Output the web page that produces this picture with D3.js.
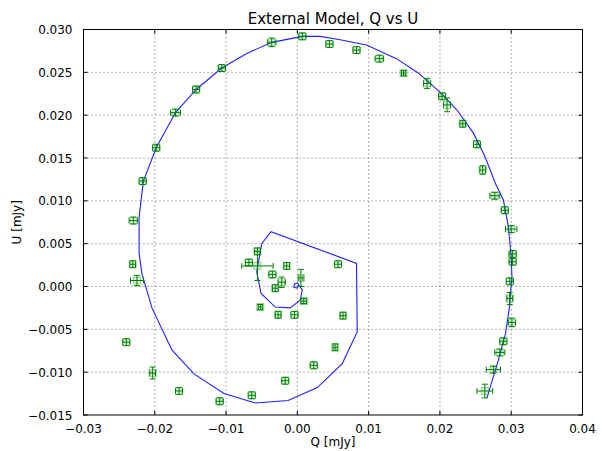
<!DOCTYPE html>
<html><head><meta charset="utf-8">
<script src="https://cdn.jsdelivr.net/npm/d3@7"></script>
<style>body{margin:0;background:#fff}svg{display:block;font-family:"DejaVu Sans",sans-serif}</style>
</head><body>
<script>
// Observed data points: Q, U and their errors
const obsQ = [-0.0036,0.0007,0.0045,0.0083,0.0115,0.0149,0.0182,0.0203,0.0210,0.0232,0.0252,0.0260,0.0277,0.0291,0.0300,0.0302,0.0302,0.0298,0.0298,0.0301,0.0289,0.0284,0.0275,0.0263,0.0057,0.0064,0.0053,0.0023,-0.0017,-0.0064,-0.0109,-0.0166,-0.0203,-0.0240,-0.0225,-0.0231,-0.0230,-0.0217,-0.0198,-0.0171,-0.0142,-0.0106,-0.0056,-0.0056,-0.0068,-0.0015,-0.0035,-0.0022,-0.0031,0.0005,0.0009,-0.0052,-0.0027,-0.0004];
const obsU = [0.0285,0.0292,0.0283,0.0276,0.0266,0.0249,0.0237,0.0222,0.0212,0.0190,0.0166,0.0136,0.0106,0.0089,0.0067,0.0038,0.0029,0.0006,-0.0014,-0.0042,-0.0064,-0.0077,-0.0097,-0.0122,0.0026,-0.0034,-0.0071,-0.0092,-0.0110,-0.0127,-0.0134,-0.0122,-0.0101,-0.0065,0.0007,0.0026,0.0077,0.0123,0.0162,0.0203,0.0230,0.0255,0.0041,0.0024,0.0028,0.0024,0.0014,0.0005,-0.0002,0.0010,-0.0017,-0.0024,-0.0033,-0.0033];
const errQ = [0.0006,0.0005,0.0005,0.0005,0.0006,0.0003,0.0005,0.0005,0.0005,0.0004,0.0005,0.0004,0.0007,0.0005,0.0008,0.0005,0.0005,0.0005,0.0004,0.0005,0.0005,0.0007,0.0010,0.0011,0.0005,0.0004,0.0003,0.0005,0.0005,0.0005,0.0005,0.0005,0.0004,0.0005,0.0009,0.0004,0.0006,0.0005,0.0005,0.0007,0.0005,0.0005,0.0004,0.0022,0.0005,0.0004,0.0005,0.0005,0.0004,0.0003,0.0004,0.0003,0.0004,0.0005];
const errU = [0.0005,0.0004,0.0004,0.0004,0.0004,0.0003,0.0006,0.0004,0.0008,0.0004,0.0004,0.0005,0.0004,0.0004,0.0004,0.0004,0.0004,0.0004,0.0007,0.0005,0.0004,0.0004,0.0004,0.0008,0.0004,0.0004,0.0004,0.0004,0.0004,0.0004,0.0004,0.0004,0.0007,0.0004,0.0006,0.0004,0.0004,0.0004,0.0004,0.0004,0.0004,0.0004,0.0004,0.0017,0.0004,0.0004,0.0004,0.0006,0.0004,0.0010,0.0003,0.0003,0.0004,0.0004];
// Model curve
const modelQ = [0.0266,0.0282,0.0292,0.0297,0.0301,0.0300,0.0296,0.0289,0.0278,0.0263,0.0247,0.0224,0.0200,0.0170,0.0139,0.0097,0.0060,0.0032,0.0007,-0.0036,-0.0071,-0.0106,-0.0142,-0.0171,-0.0198,-0.0216,-0.0222,-0.0222,-0.0218,-0.0204,-0.0176,-0.0145,-0.0103,-0.0059,-0.0013,0.0028,0.0063,0.0084,0.0083,-0.0037,-0.0050,-0.0057,-0.0051,-0.0031,-0.0010,0.0004,0.0007,0.0000,-0.0004,-0.0005,0.0000,0.0001];
const modelU = [-0.0130,-0.0086,-0.0055,-0.0027,0.0011,0.0035,0.0070,0.0101,0.0120,0.0152,0.0179,0.0206,0.0227,0.0249,0.0266,0.0282,0.0288,0.0292,0.0292,0.0285,0.0272,0.0255,0.0230,0.0203,0.0162,0.0123,0.0081,0.0039,0.0015,-0.0025,-0.0074,-0.0102,-0.0125,-0.0136,-0.0133,-0.0118,-0.0090,-0.0053,0.0027,0.0064,0.0050,0.0017,-0.0008,-0.0024,-0.0025,-0.0016,-0.0004,0.0004,0.0003,-0.0001,-0.0002,0.0001];
const xTicks = [-0.03,-0.02,-0.01,0.00,0.01,0.02,0.03,0.04];
const yTicks = [-0.015,-0.010,-0.005,0.000,0.005,0.010,0.015,0.020,0.025,0.030];

const W=602,H=451, L=83.5, R=582.5, T=29.5, B=415;
const svg=d3.select("body").append("svg").attr("width",W).attr("height",H);
const x=d3.scaleLinear().domain([-0.03,0.04]).range([L,R]);
const y=d3.scaleLinear().domain([-0.015,0.030]).range([B,T]);
const fmt=(v,d)=>{const s=Math.abs(v).toFixed(d);return (v<-1e-12?"\u2212":"")+s;};

// grid
const g=svg.append("g");
xTicks.slice(1,-1).forEach(v=>g.append("line").attr("x1",x(v)).attr("x2",x(v)).attr("y1",T).attr("y2",B).attr("stroke","#000").attr("stroke-width",0.6).attr("stroke-dasharray","1,3"));
yTicks.slice(1,-1).forEach(v=>g.append("line").attr("y1",y(v)).attr("y2",y(v)).attr("x1",L).attr("x2",R).attr("stroke","#000").attr("stroke-width",0.6).attr("stroke-dasharray","1,3"));

// model line
const line=d3.line().x(d=>x(d[0])).y(d=>y(d[1]));
svg.append("path").datum(d3.zip(modelQ,modelU)).attr("d",line).attr("fill","none").attr("stroke","#2020ff").attr("stroke-width",1.1);

// error bars & markers
const pts=obsQ.map((q,i)=>({q,u:obsU[i],eq:errQ[i],eu:errU[i]}));
const pg=svg.append("g");
pts.forEach(p=>{
  const cx=x(p.q), cy=y(p.u);
  pg.append("rect").attr("x",cx-3.5).attr("y",cy-3.5).attr("width",7).attr("height",7).attr("fill","rgba(0,160,0,0.12)").attr("stroke","rgba(0,150,0,0.4)").attr("stroke-width",1);
});
pts.forEach(p=>{
  const cx=x(p.q), cy=y(p.u);
  const x0=x(p.q-p.eq), x1=x(p.q+p.eq), y0=y(p.u-p.eu), y1=y(p.u+p.eu);
  const c="#008000";
  pg.append("line").attr("x1",x0).attr("x2",x1).attr("y1",cy).attr("y2",cy).attr("stroke",c).attr("stroke-width",1);
  pg.append("line").attr("x1",cx).attr("x2",cx).attr("y1",y0).attr("y2",y1).attr("stroke",c).attr("stroke-width",1);
  [x0,x1].forEach(xx=>pg.append("line").attr("x1",xx).attr("x2",xx).attr("y1",cy-3).attr("y2",cy+3).attr("stroke",c).attr("stroke-width",1));
  [y0,y1].forEach(yy=>pg.append("line").attr("y1",yy).attr("y2",yy).attr("x1",cx-3).attr("x2",cx+3).attr("stroke",c).attr("stroke-width",1));
});

// frame
svg.append("rect").attr("x",L).attr("y",T).attr("width",R-L).attr("height",B-T).attr("fill","none").attr("stroke","#000").attr("stroke-width",1);

// ticks (inward, all sides)
const tg=svg.append("g").attr("stroke","#000").attr("stroke-width",1);
xTicks.forEach(v=>{tg.append("line").attr("x1",x(v)).attr("x2",x(v)).attr("y1",B).attr("y2",B-4);tg.append("line").attr("x1",x(v)).attr("x2",x(v)).attr("y1",T).attr("y2",T+4);});
yTicks.forEach(v=>{tg.append("line").attr("y1",y(v)).attr("y2",y(v)).attr("x1",L).attr("x2",L+4);tg.append("line").attr("y1",y(v)).attr("y2",y(v)).attr("x1",R).attr("x2",R-4);});

// tick labels
xTicks.forEach(v=>svg.append("text").attr("x",x(v)).attr("y",B+18).attr("text-anchor","middle").attr("font-size",12).attr("fill","#000").text(fmt(v,2)));
yTicks.forEach(v=>svg.append("text").attr("x",L-11).attr("y",y(v)+4.5).attr("text-anchor","end").attr("font-size",12).attr("fill","#000").text(fmt(v,3)));

// labels
svg.append("text").attr("x",(L+R)/2).attr("y",446).attr("text-anchor","middle").attr("font-size",12).text("Q [mJy]");
svg.append("text").attr("transform",`translate(21,${(T+B)/2}) rotate(-90)`).attr("text-anchor","middle").attr("font-size",12).text("U [mJy]");
svg.append("text").attr("x",(L+R)/2).attr("y",24).attr("text-anchor","middle").attr("font-size",15).text("External Model, Q vs U");
</script>
</body></html>
